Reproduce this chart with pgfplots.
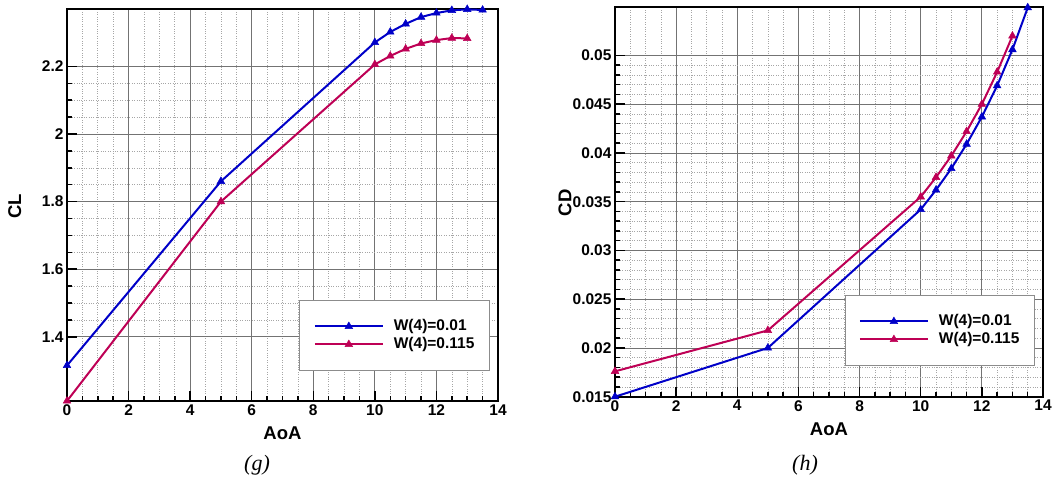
\documentclass[border=0pt]{standalone}
\usepackage{fontspec}
\setmainfont{Liberation Sans}
\newfontfamily\serifit{Liberation Serif}
\usepackage{pgfplots}
\pgfplotsset{compat=1.18}
\definecolor{cblue}{RGB}{0,0,200}
\definecolor{cred}{RGB}{190,0,85}
\pgfplotsset{
 mystyle/.style={
  scale only axis,
  axis line style={line width=2.2pt},
  tick align=inside,
  xtick pos=left, ytick pos=left,
  major tick length=10pt, minor tick length=4.5pt,
  every tick/.style={black, line width=1.5pt},
  minor x tick num=3,
  grid=both,
  major grid style={black!55, line width=0.8pt},
  minor grid style={black!35, dotted, line width=0.6pt},
  ticklabel style={font=\fontsize{15.5}{17}\selectfont\bfseries},
  /pgf/number format/assume math mode=true,
  label style={font=\fontsize{18.5}{20}\selectfont\bfseries},
  xmin=0, xmax=14, xtick={0,2,4,6,8,10,12,14},
  clip=false,
  legend cell align=left,
  legend style={draw=black!45, line width=0.8pt, fill=white,
    font=\fontsize{15.5}{17}\selectfont\bfseries,
    inner xsep=14pt, inner ysep=18pt, row sep=2pt,
    nodes={inner sep=1pt, text height=11pt, text depth=3pt},
    /tikz/every odd column/.style={column sep=9pt}},
  legend image code/.code={\draw[mark repeat=2,mark phase=2,#1] plot coordinates {(0pt,0pt) (34pt,0pt) (68pt,0pt)};},
 },
 s1/.style={cblue, line width=2pt, mark=triangle*, mark size=4.4pt, mark options={solid, line width=0.5pt}},
 s2/.style={cred, line width=2pt, mark=triangle*, mark size=4.4pt, mark options={solid, line width=0.5pt}},
}
\begin{document}
\begin{tikzpicture}
\path[use as bounding box] (0,0) rectangle (1055pt,478pt);
\begin{axis}[mystyle,
  at={(67pt,77pt)}, anchor=south west, width=431pt, height=392pt,
  ymin=1.21, ymax=2.37, ytick={1.4,1.6,1.8,2,2.2}, minor y tick num=3,
  xlabel={AoA}, ylabel={CL},
  xlabel style={at={(axis description cs:0.5,-0.0816)}, anchor=center},
  ylabel style={at={(axis description cs:-0.121,0.496)}, anchor=center},
  legend style={at={(0.981,0.077)}, anchor=south east},
]
\addplot[s1] coordinates {(0,1.315) (5,1.86) (10,2.271) (10.5,2.302) (11,2.326) (11.5,2.346) (12,2.358) (12.5,2.366) (13,2.369) (13.5,2.367)};
\addplot[s2] coordinates {(0,1.21) (5,1.80) (10,2.206) (10.5,2.231) (11,2.252) (11.5,2.268) (12,2.278) (12.5,2.284) (13,2.283)};
\legend{W(4)=0.01, W(4)=0.115}
\end{axis}
\begin{axis}[mystyle,
  at={(615pt,81.3pt)}, anchor=south west, width=428pt, height=390pt,
  ymin=0.015, ymax=0.055, ytick={0.015,0.02,0.025,0.03,0.035,0.04,0.045,0.05}, minor y tick num=4,
  scaled y ticks=false,
  yticklabel style={/pgf/number format/fixed, /pgf/number format/precision=3},
  xlabel={AoA}, ylabel={CD},
  xlabel style={at={(axis description cs:0.5,-0.083)}, anchor=center},
  ylabel style={at={(axis description cs:-0.117,0.497)}, anchor=center},
  legend style={at={(0.981,0.079)}, anchor=south east},
]
\addplot[s1] coordinates {(0,0.0150) (5,0.0200) (10,0.0342) (10.5,0.0362) (11,0.0384) (11.5,0.0409) (12,0.0437) (12.5,0.0469) (13,0.0506) (13.5,0.0549)};
\addplot[s2] coordinates {(0,0.0176) (5,0.0218) (10,0.0355) (10.5,0.0375) (11,0.0397) (11.5,0.0422) (12,0.0450) (12.5,0.0483) (13,0.0520)};
\legend{W(4)=0.01, W(4)=0.115}
\end{axis}
\node[font=\serifit\itshape\fontsize{22}{24}\selectfont] at (257pt,13pt) {(g)};
\node[font=\serifit\itshape\fontsize{22}{24}\selectfont] at (805pt,13pt) {(h)};
\end{tikzpicture}
\end{document}
